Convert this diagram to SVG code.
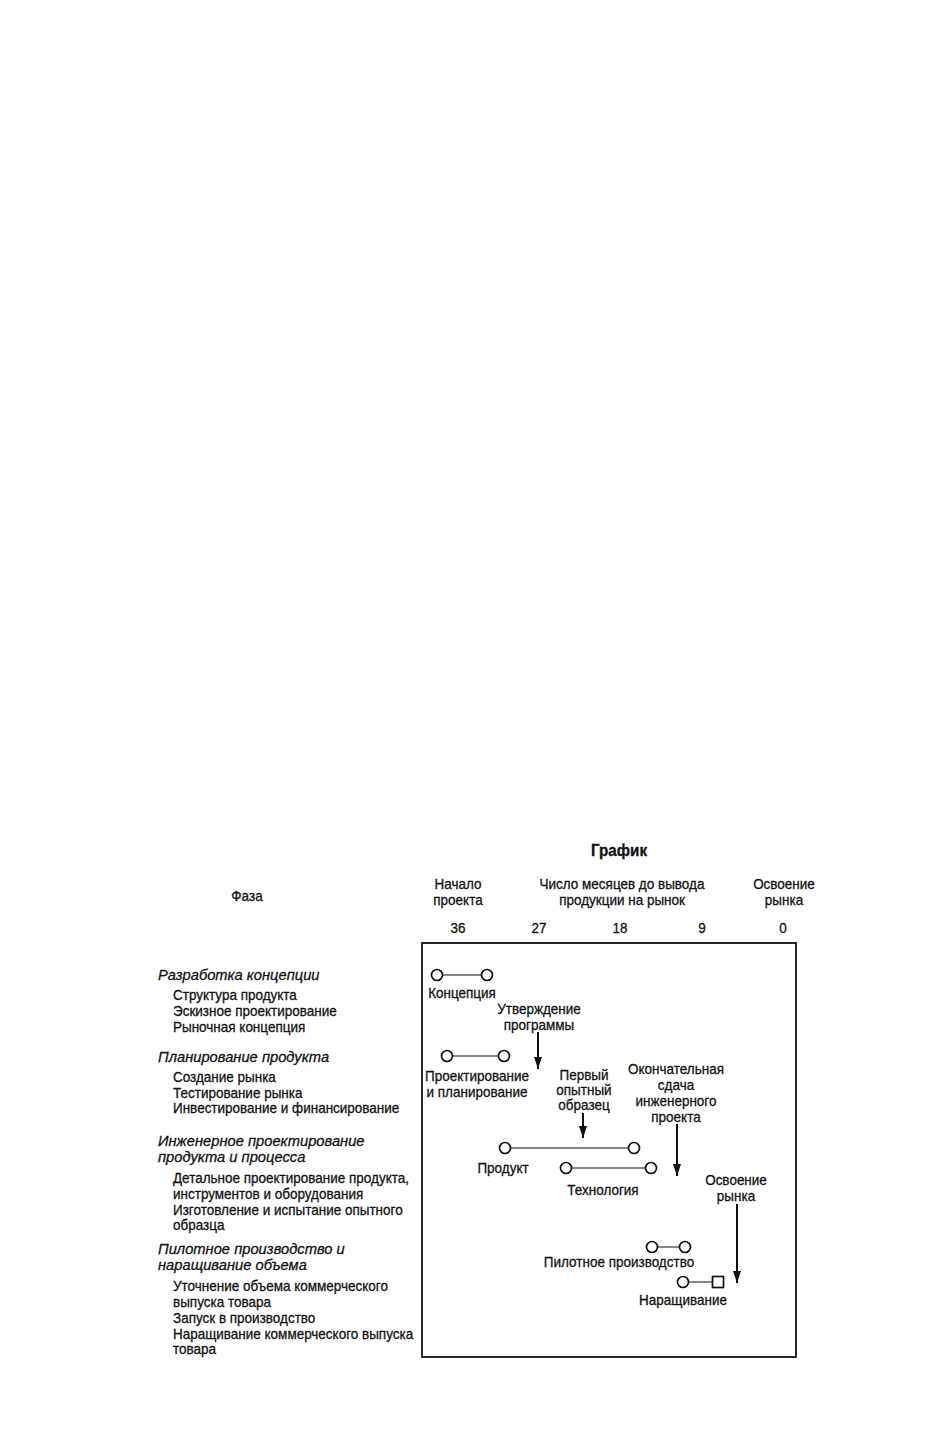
<svg xmlns="http://www.w3.org/2000/svg" width="942" height="1441" viewBox="0 0 942 1441">
<defs>
<style>
text{font-family:"Liberation Sans",Arial,sans-serif;font-size:15px;fill:#111;stroke:#111;stroke-width:0.3;transform-box:fill-box;transform-origin:0% 50%;transform:scaleX(0.9)}
.c{text-anchor:middle;transform-origin:50% 50%}
.i{font-style:italic;font-size:15.5px;transform:scaleX(0.95)}
.b{font-weight:bold;font-size:16px;transform:scaleX(0.95)}
.ln{stroke:#111;stroke-width:1.2;fill:none}
.nd{stroke:#111;stroke-width:1.7;fill:#fff}
.ar{stroke:#111;stroke-width:2;fill:none}
</style>
<marker id="ah" viewBox="0 0 12 8" refX="12" refY="4" markerWidth="12" markerHeight="8" markerUnits="userSpaceOnUse" orient="auto">
<path d="M0,0L12,4L0,8z" fill="#111"/>
</marker>
</defs>
<rect width="942" height="1441" fill="#fff"/>
<g id="header">
<text class="c b" x="619" y="856">График</text>
<text class="c" x="247" y="901">Фаза</text>
<text class="c" x="458" y="889">Начало</text>
<text class="c" x="458" y="905">проекта</text>
<text class="c" x="622" y="889">Число месяцев до вывода</text>
<text class="c" x="622" y="905">продукции на рынок</text>
<text class="c" x="784" y="889">Освоение</text>
<text class="c" x="784" y="905">рынка</text>
<text class="c" x="458" y="933">36</text>
<text class="c" x="539" y="933">27</text>
<text class="c" x="620" y="933">18</text>
<text class="c" x="702" y="933">9</text>
<text class="c" x="783" y="933">0</text>
</g>
<g id="phases">
<text class="i" x="158" y="980">Разработка концепции</text>
<text x="173" y="1000">Структура продукта</text>
<text x="173" y="1016">Эскизное проектирование</text>
<text x="173" y="1032">Рыночная концепция</text>
<text class="i" x="158" y="1062">Планирование продукта</text>
<text x="173" y="1082">Создание рынка</text>
<text x="173" y="1098">Тестирование рынка</text>
<text x="173" y="1113">Инвестирование и финансирование</text>
<text class="i" x="158" y="1146">Инженерное проектирование</text>
<text class="i" x="158" y="1162">продукта и процесса</text>
<text x="173" y="1183">Детальное проектирование продукта,</text>
<text x="173" y="1199">инструментов и оборудования</text>
<text x="173" y="1215">Изготовление и испытание опытного</text>
<text x="173" y="1230">образца</text>
<text class="i" x="158" y="1254">Пилотное производство и</text>
<text class="i" x="158" y="1270">наращивание объема</text>
<text x="173" y="1291">Уточнение объема коммерческого</text>
<text x="173" y="1307">выпуска товара</text>
<text x="173" y="1323">Запуск в производство</text>
<text x="173" y="1339">Наращивание коммерческого выпуска</text>
<text x="173" y="1354">товара</text>
</g>
<rect id="frame" x="422" y="943" width="374" height="414" fill="none" stroke="#111" stroke-width="1.8"/>
<g id="connectors">
<line class="ln" x1="437" y1="975" x2="487" y2="975"/>
<line class="ln" x1="447" y1="1056" x2="504" y2="1056"/>
<line class="ln" x1="505" y1="1148" x2="634" y2="1148"/>
<line class="ln" x1="566" y1="1168" x2="651" y2="1168"/>
<line class="ln" x1="652" y1="1247" x2="685" y2="1247"/>
<line class="ln" x1="683" y1="1282" x2="718" y2="1282"/>
<line class="ar" x1="538" y1="1032" x2="538" y2="1069" marker-end="url(#ah)"/>
<line class="ar" x1="583" y1="1113" x2="583" y2="1138" marker-end="url(#ah)"/>
<line class="ar" x1="677" y1="1124" x2="677" y2="1176" marker-end="url(#ah)"/>
<line class="ar" x1="737" y1="1204" x2="737" y2="1283" marker-end="url(#ah)"/>
</g>
<g id="concept">
<circle class="nd" cx="437" cy="975" r="5.5"/>
<circle class="nd" cx="487" cy="975" r="5.5"/>
<text class="c" x="462" y="998">Концепция</text>
</g>
<g id="approval">
<text class="c" x="539" y="1014">Утверждение</text>
<text class="c" x="539" y="1030">программы</text>
</g>
<g id="planning">
<circle class="nd" cx="447" cy="1056" r="5.5"/>
<circle class="nd" cx="504" cy="1056" r="5.5"/>
<text class="c" x="477" y="1081">Проектирование</text>
<text class="c" x="477" y="1097">и планирование</text>
</g>
<g id="prototype">
<text class="c" x="584" y="1080">Первый</text>
<text class="c" x="584" y="1095">опытный</text>
<text class="c" x="584" y="1110">образец</text>
</g>
<g id="final-design">
<text class="c" x="676" y="1074">Окончательная</text>
<text class="c" x="676" y="1090">сдача</text>
<text class="c" x="676" y="1106">инженерного</text>
<text class="c" x="676" y="1122">проекта</text>
</g>
<g id="product">
<circle class="nd" cx="505" cy="1148" r="5.5"/>
<circle class="nd" cx="634" cy="1148" r="5.5"/>
<text class="c" x="503" y="1173">Продукт</text>
</g>
<g id="technology">
<circle class="nd" cx="566" cy="1168" r="5.5"/>
<circle class="nd" cx="651" cy="1168" r="5.5"/>
<text class="c" x="603" y="1195">Технология</text>
</g>
<g id="market">
<text class="c" x="736" y="1185">Освоение</text>
<text class="c" x="736" y="1201">рынка</text>
</g>
<g id="pilot">
<circle class="nd" cx="652" cy="1247" r="5.5"/>
<circle class="nd" cx="685" cy="1247" r="5.5"/>
<text class="c" x="619" y="1267">Пилотное производство</text>
</g>
<g id="rampup">
<circle class="nd" cx="683" cy="1282" r="5.5"/>
<rect class="nd" x="712.5" y="1276.5" width="11" height="11"/>
<text class="c" x="683" y="1305">Наращивание</text>
</g>
</svg>
